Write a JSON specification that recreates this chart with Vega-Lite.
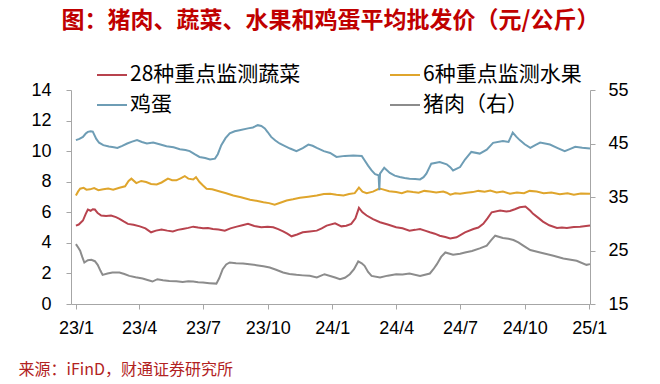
{
  "$schema": "https://vega.github.io/schema/vega-lite/v6.json",
  "autosize": {"type": "none"},
  "width": 519,
  "height": 214,
  "padding": {"left": 71, "top": 90, "right": 70, "bottom": 80},
  "background": "white",
  "title": {
    "text": "图：猪肉、蔬菜、水果和鸡蛋平均批发价（元/公斤）",
    "color": "#C00000",
    "fontSize": 23,
    "font": "Noto Sans CJK SC",
    "fontWeight": "bold",
    "offset": 26,
    "anchor": "middle"
  },
  "config": {
    "view": {"stroke": null},
    "axis": {"labelFont": "Liberation Sans", "labelColor": "#000000", "labelFontSize": 18, "domainColor": "#A6A6A6", "tickColor": "#A6A6A6", "tickSize": 5, "grid": false}
  },
  "datasets": {
    "veg": [
      {"date": "2023-01-01", "value": 5.13}, {"date": "2023-01-05", "value": 5.2}, {"date": "2023-01-11", "value": 5.46}, {"date": "2023-01-15", "value": 5.9}, {"date": "2023-01-18", "value": 6.18}, {"date": "2023-01-22", "value": 6.1}, {"date": "2023-01-25", "value": 6.2}, {"date": "2023-01-28", "value": 6.18}, {"date": "2023-02-01", "value": 5.95}, {"date": "2023-02-06", "value": 5.79}, {"date": "2023-02-13", "value": 5.75}, {"date": "2023-02-20", "value": 5.79}, {"date": "2023-02-27", "value": 5.68}, {"date": "2023-03-04", "value": 5.57}, {"date": "2023-03-10", "value": 5.4}, {"date": "2023-03-16", "value": 5.24}, {"date": "2023-03-24", "value": 5.18}, {"date": "2023-04-02", "value": 5.08}, {"date": "2023-04-10", "value": 4.95}, {"date": "2023-04-18", "value": 4.69}, {"date": "2023-04-25", "value": 4.8}, {"date": "2023-05-03", "value": 4.87}, {"date": "2023-05-11", "value": 4.8}, {"date": "2023-05-19", "value": 4.75}, {"date": "2023-05-26", "value": 4.85}, {"date": "2023-06-02", "value": 4.91}, {"date": "2023-06-10", "value": 4.98}, {"date": "2023-06-17", "value": 5.06}, {"date": "2023-06-24", "value": 5.0}, {"date": "2023-07-01", "value": 4.95}, {"date": "2023-07-08", "value": 4.97}, {"date": "2023-07-15", "value": 4.91}, {"date": "2023-07-23", "value": 4.88}, {"date": "2023-08-01", "value": 4.8}, {"date": "2023-08-09", "value": 4.95}, {"date": "2023-08-18", "value": 5.06}, {"date": "2023-08-26", "value": 5.15}, {"date": "2023-09-03", "value": 5.24}, {"date": "2023-09-12", "value": 5.1}, {"date": "2023-09-22", "value": 5.02}, {"date": "2023-10-01", "value": 5.05}, {"date": "2023-10-09", "value": 5.02}, {"date": "2023-10-16", "value": 4.9}, {"date": "2023-10-23", "value": 4.75}, {"date": "2023-10-29", "value": 4.6}, {"date": "2023-11-04", "value": 4.43}, {"date": "2023-11-12", "value": 4.55}, {"date": "2023-11-20", "value": 4.69}, {"date": "2023-11-30", "value": 4.75}, {"date": "2023-12-10", "value": 4.8}, {"date": "2023-12-17", "value": 4.95}, {"date": "2023-12-24", "value": 5.13}, {"date": "2024-01-05", "value": 5.28}, {"date": "2024-01-14", "value": 5.08}, {"date": "2024-01-21", "value": 5.12}, {"date": "2024-01-28", "value": 5.24}, {"date": "2024-02-03", "value": 5.6}, {"date": "2024-02-08", "value": 6.29}, {"date": "2024-02-13", "value": 6.0}, {"date": "2024-02-19", "value": 5.79}, {"date": "2024-02-28", "value": 5.55}, {"date": "2024-03-09", "value": 5.35}, {"date": "2024-03-20", "value": 5.2}, {"date": "2024-04-01", "value": 5.02}, {"date": "2024-04-10", "value": 4.95}, {"date": "2024-04-20", "value": 4.8}, {"date": "2024-04-28", "value": 4.85}, {"date": "2024-05-05", "value": 4.91}, {"date": "2024-05-12", "value": 4.8}, {"date": "2024-05-19", "value": 4.69}, {"date": "2024-05-26", "value": 4.6}, {"date": "2024-06-02", "value": 4.47}, {"date": "2024-06-10", "value": 4.38}, {"date": "2024-06-17", "value": 4.29}, {"date": "2024-06-26", "value": 4.36}, {"date": "2024-07-08", "value": 4.69}, {"date": "2024-07-20", "value": 4.91}, {"date": "2024-07-27", "value": 5.0}, {"date": "2024-08-03", "value": 5.24}, {"date": "2024-08-09", "value": 5.6}, {"date": "2024-08-15", "value": 6.0}, {"date": "2024-08-27", "value": 6.11}, {"date": "2024-09-05", "value": 6.05}, {"date": "2024-09-10", "value": 6.09}, {"date": "2024-09-17", "value": 6.2}, {"date": "2024-09-24", "value": 6.33}, {"date": "2024-10-02", "value": 6.38}, {"date": "2024-10-09", "value": 6.1}, {"date": "2024-10-13", "value": 5.9}, {"date": "2024-10-20", "value": 5.65}, {"date": "2024-10-27", "value": 5.39}, {"date": "2024-11-05", "value": 5.15}, {"date": "2024-11-16", "value": 4.98}, {"date": "2024-11-23", "value": 5.0}, {"date": "2024-11-30", "value": 4.98}, {"date": "2024-12-10", "value": 5.03}, {"date": "2024-12-19", "value": 5.06}, {"date": "2025-01-02", "value": 5.13}
    ],
    "fruit": [
      {"date": "2023-01-01", "value": 7.1}, {"date": "2023-01-04", "value": 7.35}, {"date": "2023-01-07", "value": 7.54}, {"date": "2023-01-12", "value": 7.6}, {"date": "2023-01-16", "value": 7.48}, {"date": "2023-01-21", "value": 7.5}, {"date": "2023-01-27", "value": 7.58}, {"date": "2023-02-02", "value": 7.45}, {"date": "2023-02-09", "value": 7.5}, {"date": "2023-02-16", "value": 7.55}, {"date": "2023-02-23", "value": 7.48}, {"date": "2023-03-04", "value": 7.61}, {"date": "2023-03-12", "value": 7.7}, {"date": "2023-03-17", "value": 8.05}, {"date": "2023-03-21", "value": 8.2}, {"date": "2023-03-28", "value": 7.91}, {"date": "2023-04-04", "value": 8.05}, {"date": "2023-04-11", "value": 7.98}, {"date": "2023-04-18", "value": 7.85}, {"date": "2023-04-26", "value": 7.82}, {"date": "2023-05-03", "value": 7.95}, {"date": "2023-05-12", "value": 8.2}, {"date": "2023-05-18", "value": 8.1}, {"date": "2023-05-24", "value": 8.09}, {"date": "2023-05-30", "value": 8.22}, {"date": "2023-06-05", "value": 8.37}, {"date": "2023-06-10", "value": 8.2}, {"date": "2023-06-17", "value": 8.15}, {"date": "2023-06-21", "value": 8.3}, {"date": "2023-06-26", "value": 7.98}, {"date": "2023-07-01", "value": 7.75}, {"date": "2023-07-06", "value": 7.54}, {"date": "2023-07-14", "value": 7.5}, {"date": "2023-07-25", "value": 7.36}, {"date": "2023-08-03", "value": 7.25}, {"date": "2023-08-13", "value": 7.1}, {"date": "2023-08-24", "value": 6.98}, {"date": "2023-09-06", "value": 6.82}, {"date": "2023-09-15", "value": 6.75}, {"date": "2023-09-25", "value": 6.66}, {"date": "2023-10-03", "value": 6.6}, {"date": "2023-10-11", "value": 6.49}, {"date": "2023-10-19", "value": 6.62}, {"date": "2023-10-28", "value": 6.77}, {"date": "2023-11-06", "value": 6.85}, {"date": "2023-11-16", "value": 6.95}, {"date": "2023-11-28", "value": 7.02}, {"date": "2023-12-10", "value": 7.1}, {"date": "2023-12-20", "value": 7.2}, {"date": "2023-12-29", "value": 7.21}, {"date": "2024-01-07", "value": 7.15}, {"date": "2024-01-17", "value": 7.1}, {"date": "2024-01-25", "value": 7.2}, {"date": "2024-02-02", "value": 7.25}, {"date": "2024-02-08", "value": 7.61}, {"date": "2024-02-13", "value": 7.35}, {"date": "2024-02-19", "value": 7.25}, {"date": "2024-02-28", "value": 7.35}, {"date": "2024-03-08", "value": 7.55}, {"date": "2024-03-13", "value": 7.5}, {"date": "2024-03-22", "value": 7.38}, {"date": "2024-04-01", "value": 7.32}, {"date": "2024-04-09", "value": 7.25}, {"date": "2024-04-17", "value": 7.38}, {"date": "2024-04-25", "value": 7.32}, {"date": "2024-05-03", "value": 7.28}, {"date": "2024-05-11", "value": 7.4}, {"date": "2024-05-19", "value": 7.36}, {"date": "2024-05-28", "value": 7.3}, {"date": "2024-06-07", "value": 7.36}, {"date": "2024-06-12", "value": 7.28}, {"date": "2024-06-17", "value": 7.15}, {"date": "2024-06-24", "value": 7.25}, {"date": "2024-07-01", "value": 7.21}, {"date": "2024-07-10", "value": 7.28}, {"date": "2024-07-19", "value": 7.32}, {"date": "2024-07-27", "value": 7.4}, {"date": "2024-08-05", "value": 7.35}, {"date": "2024-08-13", "value": 7.43}, {"date": "2024-08-22", "value": 7.3}, {"date": "2024-08-31", "value": 7.36}, {"date": "2024-09-10", "value": 7.21}, {"date": "2024-09-20", "value": 7.3}, {"date": "2024-09-30", "value": 7.25}, {"date": "2024-10-08", "value": 7.4}, {"date": "2024-10-18", "value": 7.36}, {"date": "2024-10-28", "value": 7.25}, {"date": "2024-11-08", "value": 7.3}, {"date": "2024-11-20", "value": 7.18}, {"date": "2024-12-01", "value": 7.25}, {"date": "2024-12-10", "value": 7.15}, {"date": "2024-12-20", "value": 7.23}, {"date": "2025-01-02", "value": 7.21}
    ],
    "egg": [
      {"date": "2023-01-01", "value": 10.72}, {"date": "2023-01-06", "value": 10.8}, {"date": "2023-01-11", "value": 10.93}, {"date": "2023-01-15", "value": 11.15}, {"date": "2023-01-18", "value": 11.26}, {"date": "2023-01-22", "value": 11.3}, {"date": "2023-01-25", "value": 11.28}, {"date": "2023-01-30", "value": 10.8}, {"date": "2023-02-03", "value": 10.55}, {"date": "2023-02-09", "value": 10.39}, {"date": "2023-02-17", "value": 10.3}, {"date": "2023-02-24", "value": 10.25}, {"date": "2023-03-01", "value": 10.21}, {"date": "2023-03-08", "value": 10.35}, {"date": "2023-03-15", "value": 10.5}, {"date": "2023-03-22", "value": 10.62}, {"date": "2023-03-29", "value": 10.72}, {"date": "2023-04-05", "value": 10.6}, {"date": "2023-04-12", "value": 10.5}, {"date": "2023-04-21", "value": 10.56}, {"date": "2023-04-30", "value": 10.45}, {"date": "2023-05-10", "value": 10.32}, {"date": "2023-05-20", "value": 10.25}, {"date": "2023-05-29", "value": 10.12}, {"date": "2023-06-06", "value": 10.08}, {"date": "2023-06-12", "value": 10.0}, {"date": "2023-06-19", "value": 9.8}, {"date": "2023-06-26", "value": 9.62}, {"date": "2023-07-04", "value": 9.55}, {"date": "2023-07-11", "value": 9.45}, {"date": "2023-07-18", "value": 9.51}, {"date": "2023-07-22", "value": 9.8}, {"date": "2023-07-27", "value": 10.39}, {"date": "2023-08-02", "value": 10.85}, {"date": "2023-08-08", "value": 11.16}, {"date": "2023-08-15", "value": 11.3}, {"date": "2023-08-22", "value": 11.37}, {"date": "2023-09-03", "value": 11.49}, {"date": "2023-09-10", "value": 11.55}, {"date": "2023-09-17", "value": 11.7}, {"date": "2023-09-22", "value": 11.65}, {"date": "2023-09-27", "value": 11.49}, {"date": "2023-10-01", "value": 11.25}, {"date": "2023-10-06", "value": 10.93}, {"date": "2023-10-12", "value": 10.7}, {"date": "2023-10-18", "value": 10.5}, {"date": "2023-10-25", "value": 10.35}, {"date": "2023-11-02", "value": 10.17}, {"date": "2023-11-11", "value": 10.0}, {"date": "2023-11-20", "value": 10.2}, {"date": "2023-11-28", "value": 10.43}, {"date": "2023-12-04", "value": 10.35}, {"date": "2023-12-10", "value": 10.21}, {"date": "2023-12-20", "value": 10.0}, {"date": "2023-12-29", "value": 9.88}, {"date": "2024-01-07", "value": 9.62}, {"date": "2024-01-19", "value": 9.69}, {"date": "2024-01-31", "value": 9.72}, {"date": "2024-02-12", "value": 9.69}, {"date": "2024-02-16", "value": 9.4}, {"date": "2024-02-21", "value": 9.05}, {"date": "2024-02-26", "value": 8.74}, {"date": "2024-03-02", "value": 8.5}, {"date": "2024-03-07", "value": 8.42}, {"date": "2024-03-08", "value": 7.45}, {"date": "2024-03-09", "value": 8.53}, {"date": "2024-03-15", "value": 8.92}, {"date": "2024-03-23", "value": 8.57}, {"date": "2024-03-30", "value": 8.4}, {"date": "2024-04-06", "value": 8.31}, {"date": "2024-04-13", "value": 8.25}, {"date": "2024-04-20", "value": 8.2}, {"date": "2024-04-28", "value": 8.18}, {"date": "2024-05-05", "value": 8.15}, {"date": "2024-05-10", "value": 8.3}, {"date": "2024-05-14", "value": 8.53}, {"date": "2024-05-21", "value": 9.18}, {"date": "2024-06-02", "value": 9.29}, {"date": "2024-06-12", "value": 9.14}, {"date": "2024-06-17", "value": 8.95}, {"date": "2024-06-21", "value": 8.74}, {"date": "2024-07-01", "value": 8.96}, {"date": "2024-07-08", "value": 9.45}, {"date": "2024-07-17", "value": 9.95}, {"date": "2024-07-29", "value": 9.84}, {"date": "2024-08-08", "value": 10.1}, {"date": "2024-08-17", "value": 10.54}, {"date": "2024-08-31", "value": 10.67}, {"date": "2024-09-08", "value": 10.6}, {"date": "2024-09-14", "value": 11.22}, {"date": "2024-09-19", "value": 10.95}, {"date": "2024-09-24", "value": 10.72}, {"date": "2024-10-01", "value": 10.45}, {"date": "2024-10-09", "value": 10.21}, {"date": "2024-10-16", "value": 10.4}, {"date": "2024-10-23", "value": 10.56}, {"date": "2024-11-06", "value": 10.43}, {"date": "2024-11-17", "value": 10.2}, {"date": "2024-11-27", "value": 10.0}, {"date": "2024-12-05", "value": 10.15}, {"date": "2024-12-12", "value": 10.28}, {"date": "2024-12-22", "value": 10.22}, {"date": "2025-01-02", "value": 10.17}
    ],
    "pork": [
      {"date": "2023-01-01", "value": 26.2}, {"date": "2023-01-04", "value": 25.6}, {"date": "2023-01-07", "value": 24.95}, {"date": "2023-01-10", "value": 23.8}, {"date": "2023-01-13", "value": 22.76}, {"date": "2023-01-18", "value": 23.2}, {"date": "2023-01-23", "value": 23.26}, {"date": "2023-01-28", "value": 23.0}, {"date": "2023-02-01", "value": 22.32}, {"date": "2023-02-05", "value": 21.2}, {"date": "2023-02-08", "value": 20.45}, {"date": "2023-02-15", "value": 20.7}, {"date": "2023-02-22", "value": 20.88}, {"date": "2023-03-04", "value": 20.88}, {"date": "2023-03-11", "value": 20.6}, {"date": "2023-03-18", "value": 20.26}, {"date": "2023-03-27", "value": 20.0}, {"date": "2023-04-06", "value": 19.76}, {"date": "2023-04-13", "value": 19.5}, {"date": "2023-04-20", "value": 19.2}, {"date": "2023-04-27", "value": 19.64}, {"date": "2023-05-05", "value": 19.45}, {"date": "2023-05-14", "value": 19.32}, {"date": "2023-05-24", "value": 19.25}, {"date": "2023-06-02", "value": 19.13}, {"date": "2023-06-10", "value": 19.25}, {"date": "2023-06-17", "value": 19.2}, {"date": "2023-06-24", "value": 19.05}, {"date": "2023-07-01", "value": 19.0}, {"date": "2023-07-10", "value": 18.9}, {"date": "2023-07-20", "value": 18.81}, {"date": "2023-07-24", "value": 19.8}, {"date": "2023-07-29", "value": 21.5}, {"date": "2023-08-03", "value": 22.4}, {"date": "2023-08-08", "value": 22.76}, {"date": "2023-08-17", "value": 22.6}, {"date": "2023-08-27", "value": 22.57}, {"date": "2023-09-05", "value": 22.45}, {"date": "2023-09-15", "value": 22.26}, {"date": "2023-09-25", "value": 22.05}, {"date": "2023-10-04", "value": 21.82}, {"date": "2023-10-13", "value": 21.4}, {"date": "2023-10-23", "value": 20.88}, {"date": "2023-11-01", "value": 20.6}, {"date": "2023-11-11", "value": 20.45}, {"date": "2023-11-20", "value": 20.35}, {"date": "2023-11-30", "value": 20.26}, {"date": "2023-12-10", "value": 19.95}, {"date": "2023-12-21", "value": 20.57}, {"date": "2024-01-05", "value": 19.95}, {"date": "2024-01-12", "value": 19.64}, {"date": "2024-01-19", "value": 19.9}, {"date": "2024-01-26", "value": 20.57}, {"date": "2024-02-01", "value": 21.5}, {"date": "2024-02-07", "value": 22.95}, {"date": "2024-02-12", "value": 22.6}, {"date": "2024-02-16", "value": 22.13}, {"date": "2024-02-21", "value": 21.0}, {"date": "2024-02-26", "value": 20.26}, {"date": "2024-03-09", "value": 19.95}, {"date": "2024-03-20", "value": 20.3}, {"date": "2024-04-01", "value": 20.57}, {"date": "2024-04-10", "value": 20.5}, {"date": "2024-04-20", "value": 20.7}, {"date": "2024-05-05", "value": 20.26}, {"date": "2024-05-19", "value": 20.7}, {"date": "2024-05-24", "value": 21.5}, {"date": "2024-05-29", "value": 22.45}, {"date": "2024-06-04", "value": 23.8}, {"date": "2024-06-10", "value": 24.63}, {"date": "2024-06-21", "value": 24.2}, {"date": "2024-07-01", "value": 24.4}, {"date": "2024-07-08", "value": 24.63}, {"date": "2024-07-18", "value": 24.9}, {"date": "2024-07-29", "value": 25.39}, {"date": "2024-08-08", "value": 25.9}, {"date": "2024-08-14", "value": 26.9}, {"date": "2024-08-20", "value": 27.77}, {"date": "2024-08-31", "value": 27.33}, {"date": "2024-09-08", "value": 27.2}, {"date": "2024-09-15", "value": 26.96}, {"date": "2024-09-22", "value": 26.5}, {"date": "2024-09-29", "value": 25.9}, {"date": "2024-10-09", "value": 25.08}, {"date": "2024-10-23", "value": 24.63}, {"date": "2024-11-11", "value": 24.01}, {"date": "2024-11-25", "value": 23.51}, {"date": "2024-12-14", "value": 23.08}, {"date": "2024-12-28", "value": 22.32}, {"date": "2025-01-02", "value": 22.45}
    ]
  },
  "encoding": {
    "x": {
      "field": "date",
      "type": "temporal",
      "scale": {"domain": [{"year": 2022, "month": 12, "date": 25}, {"year": 2025, "month": 1, "date": 2}]},
      "axis": {
        "values": [
          {"year": 2023, "month": 1, "date": 1}, {"year": 2023, "month": 4, "date": 1}, {"year": 2023, "month": 7, "date": 1}, {"year": 2023, "month": 10, "date": 1},
          {"year": 2024, "month": 1, "date": 1}, {"year": 2024, "month": 4, "date": 1}, {"year": 2024, "month": 7, "date": 1}, {"year": 2024, "month": 10, "date": 1},
          {"year": 2025, "month": 1, "date": 1}
        ],
        "format": "%y/%-m",
        "labelPadding": 10,
        "labelFlush": false,
        "labelOverlap": false,
        "title": "来源：iFinD，财通证券研究所",
        "titleFont": "Noto Sans CJK SC",
        "titleFontSize": 16,
        "titleFontWeight": "normal",
        "titleColor": "#B22222",
        "titleAlign": "left",
        "titleAnchor": "start",
        "titleBaseline": "alphabetic",
        "titleX": -53,
        "titleY": 70
      }
    },
    "color": {
      "field": "series",
      "type": "nominal",
      "scale": {
        "domain": ["28种重点监测蔬菜", "6种重点监测水果", "鸡蛋", "猪肉（右）"],
        "range": ["#B8434E", "#DFA52C", "#6E9DB5", "#8C8C8C"]
      },
      "legend": {
        "title": null,
        "orient": "none",
        "legendX": 25,
        "legendY": -31,
        "columns": 2,
        "direction": "horizontal",
        "padding": 0,
        "symbolType": "stroke",
        "symbolSize": 900,
        "symbolStrokeWidth": 2,
        "labelFont": "Noto Sans CJK SC",
        "labelFontSize": 21,
        "labelColor": "#000000",
        "labelOffset": 2,
        "columnPadding": 85,
        "rowPadding": 4,
        "labelLimit": 400
      }
    }
  },
  "layer": [
    {
      "layer": [
        {"data": {"name": "veg"}, "transform": [{"calculate": "'28种重点监测蔬菜'", "as": "series"}], "mark": {"type": "line", "strokeWidth": 2}, "encoding": {"y": {"field": "value", "type": "quantitative"}}},
        {"data": {"name": "fruit"}, "transform": [{"calculate": "'6种重点监测水果'", "as": "series"}], "mark": {"type": "line", "strokeWidth": 2}, "encoding": {"y": {"field": "value", "type": "quantitative"}}},
        {"data": {"name": "egg"}, "transform": [{"calculate": "'鸡蛋'", "as": "series"}], "mark": {"type": "line", "strokeWidth": 2}, "encoding": {"y": {"field": "value", "type": "quantitative"}}}
      ],
      "encoding": {
        "y": {
          "field": "value",
          "type": "quantitative",
          "scale": {"domain": [0, 14], "nice": false, "zero": false},
          "axis": {"orient": "left", "values": [0, 2, 4, 6, 8, 10, 12, 14], "title": null, "labelPadding": 15}
        }
      }
    },
    {
      "data": {"name": "pork"},
      "transform": [{"calculate": "'猪肉（右）'", "as": "series"}],
      "mark": {"type": "line", "strokeWidth": 2},
      "encoding": {
        "y": {
          "field": "value",
          "type": "quantitative",
          "scale": {"domain": [15, 55], "nice": false, "zero": false},
          "axis": {"orient": "right", "values": [15, 25, 35, 45, 55], "title": null, "labelPadding": 13}
        }
      }
    }
  ],
  "resolve": {"scale": {"y": "independent"}}
}
